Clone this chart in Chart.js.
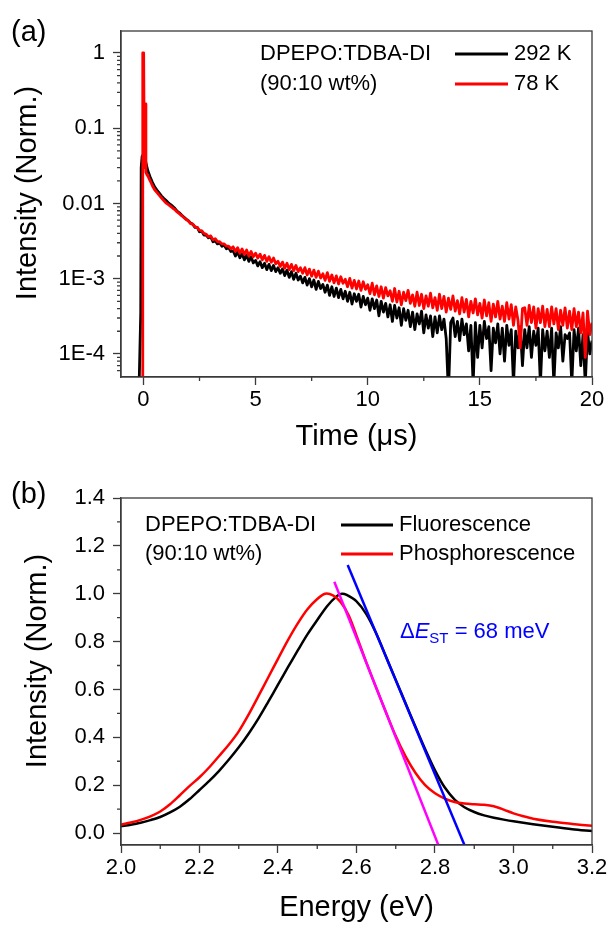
<!DOCTYPE html>
<html>
<head>
<meta charset="utf-8">
<script src="https://cdn.jsdelivr.net/npm/chart.js@4.4.1/dist/chart.umd.min.js"></script>
<style>
  html, body { margin: 0; padding: 0; background: #fff; }
  #wrap { position: relative; width: 611px; height: 925px; }
  canvas { position: absolute; left: 0; }
  #chartA { top: 0; }
  #chartB { top: 460px; }
</style>
</head>
<body>
<div id="wrap">
  <canvas id="chartA" width="611" height="460"></canvas>
  <canvas id="chartB" width="611" height="465"></canvas>
</div>
<script>
const FONT = '"Liberation Sans", Arial, sans-serif';
const AXIS = '#3a3a3a';
Chart.defaults.font.family = FONT;
Chart.defaults.color = '#000';

// ---- (a) transient PL decay ----
const tempLabels = ['292 K', '78 K'];
const xTicksA = [0, 5, 10, 15, 20];
const xMinorA = [2.5, 7.5, 12.5, 17.5];
const yTicksA = [1e-4, 1e-3, 0.01, 0.1, 1];
const yTickLabelsA = ['1E-4', '1E-3', '0.01', '0.1', '1'];
const yMinorA = [6e-5, 7e-5, 8e-5, 9e-5,
  2e-4, 3e-4, 4e-4, 5e-4, 6e-4, 7e-4, 8e-4, 9e-4,
  2e-3, 3e-3, 4e-3, 5e-3, 6e-3, 7e-3, 8e-3, 9e-3,
  0.02, 0.03, 0.04, 0.05, 0.06, 0.07, 0.08, 0.09,
  0.2, 0.3, 0.4, 0.5, 0.6, 0.7, 0.8, 0.9];

// prompt part (us, norm. intensity)
const headTime292 = [-0.2, -0.12, -0.1, -0.06, 0, 0.05, 0.1, 0.15, 0.2];
const headInt292 = [3e-5, 3.5e-4, 0.03, 0.042, 0.045, 0.048, 0.036, 0.031, 0.027];
const headTime78 = [-0.06, -0.03, 0.01, 0.04, 0.08, 0.11, 0.16, 0.2];
const headInt78 = [3e-5, 1.0, 1.0, 0.03, 0.21, 0.026, 0.024, 0.023];

// delayed part, sampled every 0.1 us from 0.3 us
const tailStart = 0.3, tailStep = 0.1;
const tailInt292 = [
  0.0224, 0.0191, 0.0166, 0.0151, 0.0138, 0.0126, 0.0117,
  0.0110, 0.0103, 0.0097, 0.0092, 0.0086, 0.0079, 0.0075, 0.0070, 0.0066, 0.0062,
  0.0059, 0.0055, 0.0053, 0.0048, 0.0048, 0.0042, 0.0043, 0.0038, 0.0038, 0.0035,
  0.0036, 0.0031, 0.0032, 0.0029, 0.0030, 0.0027, 0.0028, 0.0025, 0.0026, 0.0023,
  0.00235, 0.00200, 0.00228, 0.00190, 0.00215, 0.00178, 0.00205, 0.00170, 0.00196, 0.00162,
  0.00175, 0.00148, 0.00168, 0.00140, 0.00160, 0.00132, 0.00155, 0.00128, 0.00150, 0.00124,
  0.00140, 0.00118, 0.00135, 0.00110, 0.00130, 0.00104, 0.00124, 0.00098, 0.00118, 0.00096,
  0.00108, 0.00088, 0.00104, 0.00082, 0.00100, 0.00078, 0.00096, 0.00072, 0.00092, 0.00074,
  0.00084, 0.00066, 0.00082, 0.00060, 0.00078, 0.00058, 0.00075, 0.00056, 0.00072, 0.00054,
  0.00068, 0.00050, 0.00066, 0.00046, 0.00063, 0.00050, 0.00062, 0.00042, 0.00058, 0.00045,
  0.00055, 0.00038, 0.00054, 0.00040, 0.00052, 0.00032, 0.00050, 0.00036, 0.00047, 0.00031,
  0.00045, 0.00027, 0.00044, 0.00030, 0.00041, 0.00024, 0.00040, 0.00028, 0.00038, 0.00023,
  0.00036, 0.00021, 0.00034, 0.00025, 0.00037, 0.00019, 0.00033, 0.00022, 0.00032, 0.00017,
  0.00031, 0.00019, 0.00032, 0.00021, 0.00029, 0.00016, 0.00003, 0.00026, 0.00030, 0.00017,
  0.00027, 0.00015, 0.00029, 0.00018, 0.00025, 0.00011, 0.00024, 0.00004, 0.00026, 0.00009,
  0.00024, 0.00012, 0.00027, 0.00016, 0.00023, 0.00006, 0.00022, 0.00014, 0.00025, 0.00010,
  0.00022, 0.00008, 0.00024, 0.00013, 0.00021, 0.00004, 0.00020, 0.00012, 0.00023, 0.00007,
  0.00021, 0.00012, 0.00023, 0.00009, 0.00020, 0.00013, 0.00022, 0.00004, 0.00021, 0.00011,
  0.00020, 0.00009, 0.00022, 0.00004, 0.00019, 0.00012, 0.00023, 0.00008, 0.00018, 0.00016,
  0.00019, 0.00004, 0.00021, 0.00011, 0.00022, 0.00007, 0.00018, 0.00004, 0.00020, 0.00010,
  0.00015
];
const tailInt78 = [
  0.0200, 0.0172, 0.0152, 0.0140, 0.0129, 0.0119, 0.0110,
  0.0102, 0.0097, 0.0092, 0.0087, 0.0083, 0.0077, 0.0073, 0.0069, 0.0065, 0.0061,
  0.0059, 0.0054, 0.0053, 0.0049, 0.0048, 0.0044, 0.0043, 0.0040, 0.0039, 0.0036,
  0.0037, 0.0033, 0.0034, 0.0031, 0.0031, 0.0029, 0.0029, 0.0027, 0.0027, 0.0025,
  0.00265, 0.00230, 0.00258, 0.00218, 0.00248, 0.00210, 0.00240, 0.00200, 0.00230, 0.00195,
  0.00218, 0.00188, 0.00212, 0.00178, 0.00204, 0.00170, 0.00196, 0.00165, 0.00188, 0.00158,
  0.00170, 0.00145, 0.00166, 0.00138, 0.00160, 0.00132, 0.00155, 0.00128, 0.00150, 0.00124,
  0.00140, 0.00118, 0.00140, 0.00112, 0.00134, 0.00108, 0.00130, 0.00104, 0.00126, 0.00102,
  0.00116, 0.00095, 0.00120, 0.00092, 0.00112, 0.00088, 0.00109, 0.00085, 0.00106, 0.00087,
  0.00098, 0.00078, 0.00101, 0.00075, 0.00095, 0.00073, 0.00093, 0.00070, 0.00091, 0.00072,
  0.00083, 0.00063, 0.00087, 0.00061, 0.00080, 0.00058, 0.00078, 0.00055, 0.00076, 0.00059,
  0.00069, 0.00050, 0.00074, 0.00049, 0.00068, 0.00045, 0.00066, 0.00051, 0.00070, 0.00047,
  0.00061, 0.00043, 0.00066, 0.00044, 0.00062, 0.00040, 0.00059, 0.00043, 0.00064, 0.00041,
  0.00056, 0.00038, 0.00062, 0.00040, 0.00058, 0.00036, 0.00055, 0.00039, 0.00059, 0.00037,
  0.00051, 0.00034, 0.00056, 0.00036, 0.00053, 0.00031, 0.00050, 0.00035, 0.00054, 0.00033,
  0.00047, 0.00030, 0.00052, 0.00032, 0.00048, 0.00027, 0.00046, 0.00031, 0.00050, 0.00029,
  0.00043, 0.00027, 0.00048, 0.00029, 0.00045, 0.00024, 0.00042, 0.00028, 0.00012, 0.00040,
  0.00041, 0.00024, 0.00044, 0.00026, 0.00042, 0.00022, 0.00040, 0.00026, 0.00043, 0.00023,
  0.00039, 0.00023, 0.00042, 0.00025, 0.00040, 0.00021, 0.00038, 0.00024, 0.00041, 0.00022,
  0.00037, 0.00021, 0.00040, 0.00023, 0.00036, 0.00019, 0.00035, 0.00009, 0.00037, 0.00018,
  0.00026
];

// ---- (b) fluorescence / phosphorescence spectra ----
const specLabels = ['Fluorescence', 'Phosphorescence'];
const energyFluo = [2.0, 2.025, 2.05, 2.075, 2.1, 2.125, 2.15, 2.175, 2.2, 2.225, 2.25, 2.275,
  2.3, 2.325, 2.35, 2.375, 2.4, 2.425, 2.45, 2.475, 2.5, 2.525, 2.55, 2.5625, 2.575, 2.6,
  2.625, 2.65, 2.675, 2.7, 2.725, 2.75, 2.775, 2.8, 2.825, 2.85, 2.875, 2.9, 2.925, 2.95,
  2.975, 3.0, 3.05, 3.1, 3.15, 3.2];
const intFluo = [0.028, 0.035, 0.043, 0.054, 0.067, 0.086, 0.11, 0.142, 0.18, 0.218, 0.26, 0.307,
  0.358, 0.415, 0.478, 0.548, 0.62, 0.692, 0.762, 0.83, 0.89, 0.948, 0.99, 1.0, 0.995, 0.968,
  0.915, 0.835, 0.738, 0.64, 0.542, 0.445, 0.35, 0.262, 0.19, 0.14, 0.108, 0.088, 0.074, 0.064,
  0.056, 0.049, 0.037, 0.026, 0.016, 0.008];
const energyPhos = [2.0, 2.025, 2.05, 2.075, 2.1, 2.125, 2.15, 2.175, 2.2, 2.225, 2.25, 2.275,
  2.3, 2.325, 2.35, 2.375, 2.4, 2.425, 2.45, 2.475, 2.5, 2.52, 2.54, 2.56, 2.58, 2.6,
  2.625, 2.65, 2.675, 2.7, 2.725, 2.75, 2.775, 2.8, 2.825, 2.85, 2.875, 2.9, 2.925, 2.95,
  2.975, 3.0, 3.025, 3.05, 3.1, 3.15, 3.2];
const intPhos = [0.035, 0.044, 0.055, 0.07, 0.09, 0.12, 0.158, 0.197, 0.233, 0.275, 0.322, 0.37,
  0.425, 0.495, 0.572, 0.65, 0.728, 0.805, 0.875, 0.935, 0.978, 1.0, 0.993, 0.965, 0.91, 0.825,
  0.713, 0.608, 0.505, 0.405, 0.32, 0.252, 0.2, 0.166, 0.144, 0.13, 0.123, 0.12, 0.118, 0.112,
  0.098, 0.082, 0.07, 0.06, 0.047, 0.038, 0.03];
// onset tangents
const tangentFluoE = [2.5775, 2.875];
const tangentFluoI = [1.12, -0.05];
const tangentPhosE = [2.5435, 2.8085];
const tangentPhosI = [1.05, -0.05];

const xTicksB = [2.0, 2.2, 2.4, 2.6, 2.8, 3.0, 3.2];
const xTickLabelsB = ['2.0', '2.2', '2.4', '2.6', '2.8', '3.0', '3.2'];
const xMinorB = [2.1, 2.3, 2.5, 2.7, 2.9, 3.1];
const yTicksB = [0, 0.2, 0.4, 0.6, 0.8, 1.0, 1.2, 1.4];
const yTickLabelsB = ['0.0', '0.2', '0.4', '0.6', '0.8', '1.0', '1.2', '1.4'];
const yMinorB = [0.1, 0.3, 0.5, 0.7, 0.9, 1.1, 1.3];

function pairs(xs, ys) {
  return xs.map((x, i) => ({ x: x, y: ys[i] }));
}
function decay(headT, headI, tail) {
  return pairs(headT, headI).concat(tail.map((v, i) => ({ x: tailStart + i * tailStep, y: v })));
}

// frame, minor ticks, tag, rotated y title, legend and notes
const decor = {
  id: 'decor',
  afterDraw(chart, args, o) {
    const { ctx, chartArea: a } = chart;
    const sx = chart.scales.x, sy = chart.scales.y;
    ctx.save();
    ctx.strokeStyle = AXIS;
    ctx.lineWidth = 1.3;
    ctx.strokeRect(a.left, a.top, a.right - a.left, a.bottom - a.top);
    ctx.beginPath();
    o.minorX.forEach(v => {
      const p = sx.getPixelForValue(v);
      ctx.moveTo(p, a.bottom); ctx.lineTo(p, a.bottom + 4);
    });
    o.minorY.forEach(v => {
      const p = sy.getPixelForValue(v);
      ctx.moveTo(a.left, p); ctx.lineTo(a.left - 4, p);
    });
    ctx.stroke();

    ctx.fillStyle = '#000';
    ctx.textBaseline = 'middle';
    ctx.textAlign = 'left';
    ctx.font = '29px ' + FONT;
    ctx.fillText(o.tag, o.tagAt[0], o.tagAt[1]);

    ctx.save();
    ctx.translate(o.yTitleAt[0], o.yTitleAt[1]);
    ctx.rotate(-Math.PI / 2);
    ctx.textAlign = 'center';
    ctx.fillText(o.yTitle, 0, 0);
    ctx.restore();

    // legend
    const L = o.legend;
    ctx.font = '22px ' + FONT;
    L.host.forEach((t, i) => ctx.fillText(t, L.hostX, L.rows[i]));
    chart.data.datasets.filter(d => d.inLegend).forEach((d, i) => {
      const y = L.rows[i];
      ctx.strokeStyle = d.borderColor;
      ctx.lineWidth = 3;
      ctx.beginPath();
      ctx.moveTo(L.lineX[0], y); ctx.lineTo(L.lineX[1], y);
      ctx.stroke();
      ctx.fillText(d.label, L.textX, y);
    });

    if (o.note) {
      let x = o.note.x;
      ctx.fillStyle = o.note.color;
      o.note.parts.forEach(p => {
        ctx.font = (p.italic ? 'italic ' : '') + (p.sub ? '15px ' : '22px ') + FONT;
        const y = o.note.y + (p.sub ? 7 : 0);
        ctx.fillText(p.t, x, y);
        x += ctx.measureText(p.t).width;
      });
    }
    ctx.restore();
  }
};

function axis(ticks, labels, fitKey, fitSize, extra) {
  return Object.assign({
    afterBuildTicks: s => { s.ticks = ticks.map(v => ({ value: v })); },
    afterFit: s => { s[fitKey] = fitSize; },
    ticks: {
      font: { size: 22 }, color: '#000', autoSkip: false, maxRotation: 0,
      padding: fitKey === 'width' ? 8 : 2,
      callback: (v, i) => labels[i]
    },
    grid: { drawOnChartArea: false, tickLength: 8, tickColor: AXIS, tickWidth: 1.3 },
    border: { color: AXIS, width: 1.3 }
  }, extra);
}

const lineBase = { pointRadius: 0, fill: false, borderJoinStyle: 'round' };

new Chart(document.getElementById('chartA'), {
  type: 'line',
  data: {
    datasets: [
      Object.assign({ label: tempLabels[0], data: decay(headTime292, headInt292, tailInt292),
        borderColor: '#000000', borderWidth: 2.8, order: 2, inLegend: true }, lineBase),
      Object.assign({ label: tempLabels[1], data: decay(headTime78, headInt78, tailInt78),
        borderColor: '#ff0000', borderWidth: 2.8, order: 1, inLegend: true }, lineBase)
    ]
  },
  options: {
    responsive: false,
    animation: false,
    layout: { padding: { left: 0, top: 31, right: 19, bottom: 0 } },
    plugins: {
      legend: { display: false },
      tooltip: { enabled: false },
      decor: {
        tag: '(a)', tagAt: [11, 33],
        yTitle: 'Intensity (Norm.)', yTitleAt: [28, 193],
        minorX: xMinorA, minorY: yMinorA,
        legend: { host: ['DPEPO:TDBA-DI', '(90:10 wt%)'], hostX: 260, rows: [54, 84],
          lineX: [455, 508], textX: 514 }
      }
    },
    scales: {
      x: axis(xTicksA, xTicksA.map(String), 'height', 83, {
        type: 'linear', min: -1, max: 20,
        title: { display: true, text: 'Time (μs)', font: { size: 29 }, color: '#000',
          padding: { top: 0, bottom: 6 } }
      }),
      y: axis(yTicksA, yTickLabelsA, 'width', 121, {
        type: 'logarithmic', min: 4.93e-5, max: 1.96
      })
    }
  },
  plugins: [decor]
});

new Chart(document.getElementById('chartB'), {
  type: 'line',
  data: {
    datasets: [
      Object.assign({ label: specLabels[0], data: pairs(energyFluo, intFluo),
        borderColor: '#000000', borderWidth: 2.5, tension: 0.3,
        order: 4, inLegend: true }, lineBase),
      Object.assign({ label: specLabels[1], data: pairs(energyPhos, intPhos),
        borderColor: '#ff0000', borderWidth: 2.5, tension: 0.3,
        order: 3, inLegend: true }, lineBase),
      Object.assign({ label: 'tangent P', data: pairs(tangentPhosE, tangentPhosI),
        borderColor: '#ff00ff', borderWidth: 2.5, order: 2 }, lineBase),
      Object.assign({ label: 'tangent F', data: pairs(tangentFluoE, tangentFluoI),
        borderColor: '#0000ff', borderWidth: 2.5, order: 1 }, lineBase)
    ]
  },
  options: {
    responsive: false,
    animation: false,
    layout: { padding: { left: 0, top: 38, right: 19, bottom: 0 } },
    plugins: {
      legend: { display: false },
      tooltip: { enabled: false },
      decor: {
        tag: '(b)', tagAt: [11, 35],
        yTitle: 'Intensity (Norm.)', yTitleAt: [38, 201],
        minorX: xMinorB, minorY: yMinorB,
        legend: { host: ['DPEPO:TDBA-DI', '(90:10 wt%)'], hostX: 145, rows: [65, 94],
          lineX: [341, 393], textX: 399 },
        note: { x: 400, y: 172, color: '#0000ff',
          parts: [{ t: 'Δ' }, { t: 'E', italic: true }, { t: 'ST', sub: true }, { t: ' = 68 meV' }] }
      }
    },
    scales: {
      x: axis(xTicksB, xTickLabelsB, 'height', 80, {
        type: 'linear', min: 2.0, max: 3.2,
        title: { display: true, text: 'Energy (eV)', font: { size: 29 }, color: '#000',
          padding: { top: 0, bottom: 0 } }
      }),
      y: axis(yTicksB, yTickLabelsB, 'width', 121, {
        type: 'linear', min: -0.05, max: 1.4
      })
    }
  },
  plugins: [decor]
});
</script>
</body>
</html>
